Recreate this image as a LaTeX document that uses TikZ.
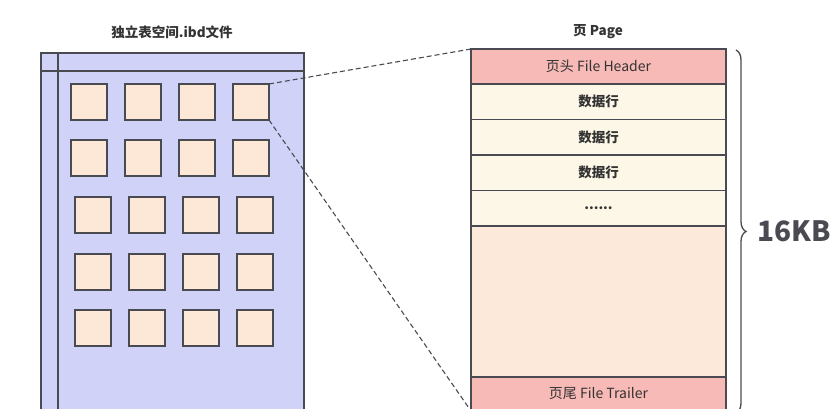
\documentclass[tikz,border=0pt]{standalone}
\usepackage{fontspec}
\setmainfont{Noto Sans CJK SC}
\usetikzlibrary{decorations.pathreplacing}
\definecolor{cont}{HTML}{D0D3F7}
\definecolor{sq}{HTML}{FDE8D7}
\definecolor{hdr}{HTML}{F8BAB6}
\definecolor{row}{HTML}{FCF7E6}
\definecolor{free}{HTML}{FCE9DA}
\definecolor{strk}{HTML}{4A4A52}
\definecolor{txt}{HTML}{333333}
\begin{document}
\begin{tikzpicture}[x=1pt,y=-1pt,
  sqbox/.style={draw=strk,line width=1.4pt,fill=sq,minimum width=36pt,minimum height=36pt,inner sep=0pt,outer sep=0pt},
  pagerow/.style={draw=strk,line width=1.4pt,minimum width=255pt,inner sep=0pt,outer sep=0pt,font=\fontsize{14}{16}\selectfont,text=txt},
  datarow/.style={pagerow,fill=row,minimum height=35.5pt,anchor=north,font=\fontsize{13.5}{16}\selectfont\bfseries},
  ttl/.style={font=\fontsize{13.5}{16}\selectfont\bfseries,text=txt,inner sep=0pt},
  link/.style={draw=strk,line width=1.1pt,dash pattern=on 5pt off 3pt}]
\useasboundingbox (0,0) rectangle (831,408);
\clip (0,0) rectangle (831,408);
% titles
\node[ttl] (t1) at (172,32) {独立表空间.ibd文件};
\node[ttl] (t2) at (598,32) {页 Page};
% container
\node[draw=strk,line width=1.4pt,fill=cont,minimum width=263pt,minimum height=370pt,inner sep=0pt,outer sep=0pt,anchor=north west] (cont) at (41,53) {};
\draw[strk,line width=1.4pt] (58,53) -- (58,425);
\draw[strk,line width=1.4pt] (41,71) -- (304,71);
% squares
\foreach \c/\x in {1/89,2/143,3/197,4/251}{
  \node[sqbox] (s1\c) at (\x,102) {};
  \node[sqbox] (s2\c) at (\x,158) {};
}
\foreach \c/\x in {1/93,2/147,3/201,4/255}{
  \node[sqbox] (s3\c) at (\x,215) {};
  \node[sqbox] (s4\c) at (\x,272) {};
  \node[sqbox] (s5\c) at (\x,328) {};
}
% page
\node[pagerow,fill=hdr,minimum height=35pt,anchor=north west] (hd) at (471,49) {页头 File Header};
\node[datarow] (r1) at (hd.south) {数据行};
\node[datarow] (r2) at (r1.south) {数据行};
\node[datarow] (r3) at (r2.south) {数据行};
\node[datarow] (r4) at (r3.south) {......};
\node[pagerow,fill=free,minimum height=151pt,anchor=north] (fr) at (r4.south) {};
\node[pagerow,fill=hdr,minimum height=34pt,anchor=north] (tr) at (fr.south) {页尾 File Trailer};
% connectors
\draw[link] (s14.north east) -- (hd.north west);
\draw[link] (s14.south east) -- (tr.south west);
% brace
\coordinate (bt) at (736,50);
\coordinate (bb) at (736,413);
\draw[strk,line width=1.3pt,decorate,decoration={brace,amplitude=10pt}] (bt) -- (bb);
\node[anchor=west,inner sep=0pt,font=\fontsize{28}{32}\selectfont\bfseries,text=strk] (kb) at (757,231) {16KB};
\end{tikzpicture}
\end{document}
